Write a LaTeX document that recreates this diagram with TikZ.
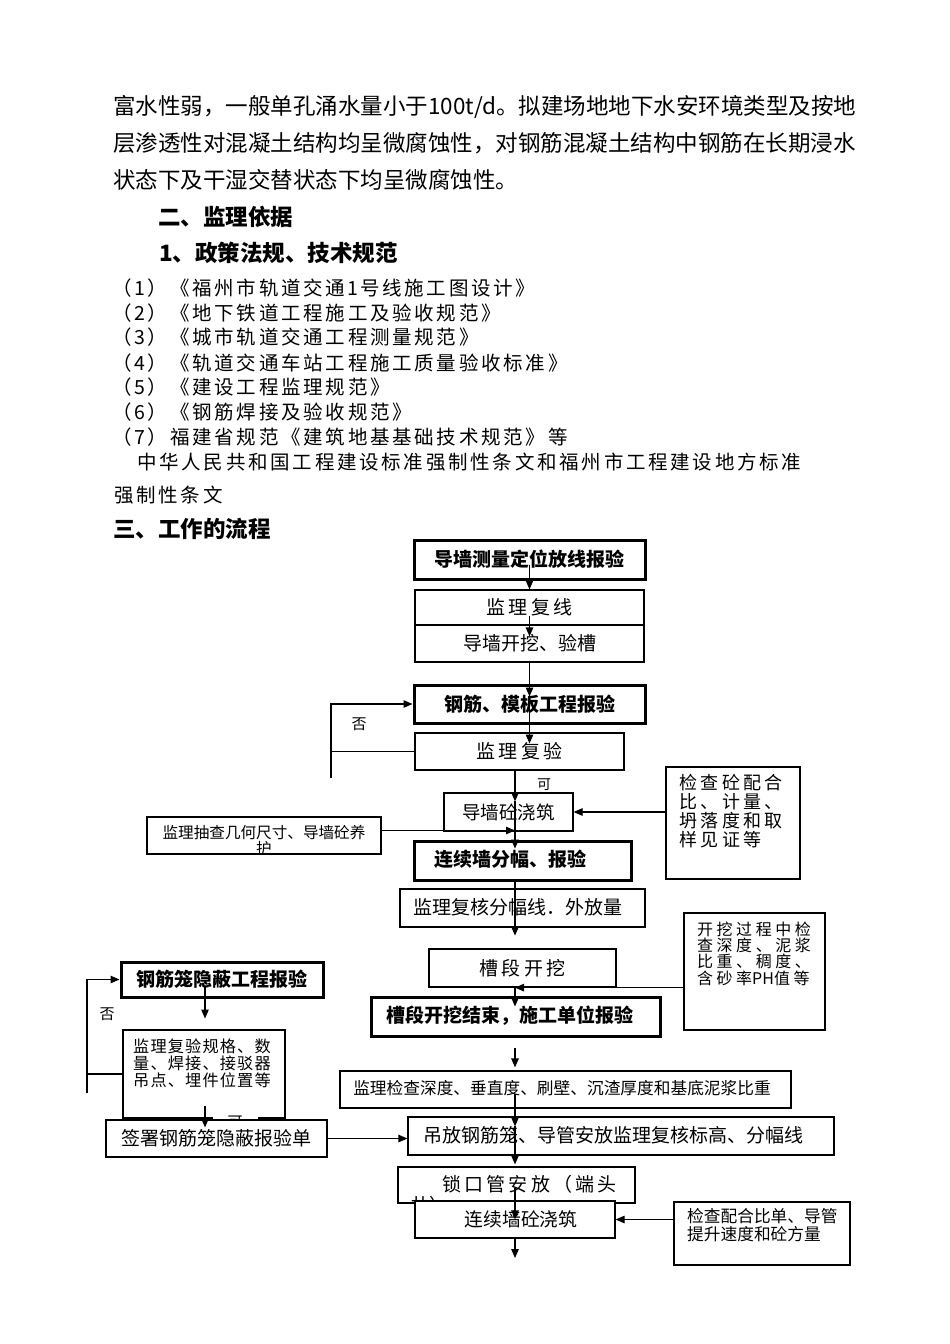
\documentclass[tikz,border=0pt]{standalone}
\usepackage{fontspec}
\setmainfont{Noto Sans CJK SC}
\usetikzlibrary{arrows.meta,calc}
\newcommand\fs[1]{\fontsize{#1}{#1}\selectfont}
\newcommand\fsl[2]{\fontsize{#1}{#2}\selectfont}
\newcommand\spc[1]{\addfontfeature{LetterSpace=#1}}
\newcommand\mkbox[7]{\node[#1,minimum width={#5-#3},minimum height={#6-#4}] (#2) at ({(#3+#5)/2},{(#4+#6)/2}) {#7};}
\begin{document}
\begin{tikzpicture}[x=1pt,y=-1pt,
  tbox/.style={draw=black,line width=1.2pt,fill=white,inner sep=0pt},
  kbox/.style={draw=black,line width=3pt,fill=white,inner sep=0pt,font=\bfseries\fs{19}},
  arr/.style={line width=1.2pt,-{Triangle[length=9pt,width=7.5pt]}},
  ln/.style={line width=1.2pt},
  para/.style={anchor=west,inner sep=0pt,font=\fs{22.5}},
  head/.style={anchor=west,inner sep=0pt,font=\bfseries\fs{22.5}},
  item/.style={anchor=west,inner sep=0pt,font=\fs{19.5}\spc{14}},
  txt/.style={inner sep=0pt},
  lbl/.style={inner sep=0pt,font=\fs{15}}]
\fill[white] (0,0) rectangle (950,1344);
\useasboundingbox (0,0) rectangle (950,1344);

% ---------- text above the chart ----------
\node[para] (p1) at (113,107) {富水性弱，一般单孔涌水量小于100t/d。拟建场地地下水安环境类型及按地};
\node[para] (p2) at (113,143) {层渗透性对混凝土结构均呈微腐蚀性，对钢筋混凝土结构中钢筋在长期浸水};
\node[para] (p3) at (113,180) {状态下及干湿交替状态下均呈微腐蚀性。};
\node[head] (h2) at (158,217) {二、监理依据};
\node[head] (h3) at (159,253) {1、政策法规、技术规范};
\node[item] (i1) at (112,288) {（1）《福州市轨道交通\hspace{2pt}1\hspace{2pt}号线施工图设计》};
\node[item] (i2) at (112,313) {（2）《地下铁道工程施工及验收规范》};
\node[item] (i3) at (112,337) {（3）《城市轨道交通工程测量规范》};
\node[item] (i4) at (112,363) {（4）《轨道交通车站工程施工质量验收标准》};
\node[item] (i5) at (112,387) {（5）《建设工程监理规范》};
\node[item] (i6) at (112,412) {（6）《钢筋焊接及验收规范》};
\node[item] (i7) at (112,437) {（7）福建省规范《建筑地基基础技术规范》等};
\node[item] (i8) at (137,462) {中华人民共和国工程建设标准强制性条文和福州市工程建设地方标准};
\node[item] (i9) at (114,495) {强制性条文};
\node[head] (h4) at (113,529) {三、工作的流程};

% ---------- main column ----------
\mkbox{kbox}{b1}{414}{540}{645}{579}{导墙测量定位放线报验}
\mkbox{tbox,font=\fs{19}\spc{16}}{b2}{415}{590}{644}{625}{监理复线}
\mkbox{tbox,font=\fs{19}}{b3}{415}{625}{644}{662}{导墙开挖、验槽}
\mkbox{kbox}{b4}{414}{685}{645}{723}{钢筋、模板工程报验}
\mkbox{tbox,font=\fs{19}\spc{17}}{b5}{415}{733}{624}{770}{监理复验}
\mkbox{tbox,font=\fs{18.5}}{b6}{444}{793}{573}{831}{导墙砼浇筑}
\mkbox{tbox}{r1}{666}{767}{800}{879}{}
\node[txt,anchor=west,align=left,font=\fsl{18}{19}\spc{19}] (tr1) at (679,811.5) {检查砼配合\\比、计量、\\坍落度和取\\样见证等};
\mkbox{tbox}{l1}{147}{817}{381}{854}{}
\begin{scope}
\clip (l1.south west) rectangle (l1.north east);
\node[txt,align=center,font=\fsl{15.6}{16}] (tl1) at (264,841) {监理抽查几何尺寸、导墙砼养\\护};
\end{scope}
\mkbox{kbox}{b7}{414}{841}{631}{880}{}
\node[txt,font=\bfseries\fs{19}] (t7) at (510,859) {连续墙分幅、报验};
\mkbox{tbox}{b8}{400}{889}{645}{927}{}
\node[txt,font=\fs{19}] (t8) at (518,907) {监理复核分幅线．外放量};
\mkbox{tbox,font=\fs{19}\spc{18}}{b9}{429}{949}{616}{987}{槽段开挖}
\mkbox{tbox}{r2}{684}{913}{825}{1030}{}
\node[txt,anchor=west,align=left,font=\fsl{16}{16.4}\spc{22}] (tr2) at (697,953.5) {开挖过程中检\\查深度、泥浆\\比重、稠度、\\含砂率{\spc{0}PH}值等};
\mkbox{kbox}{b10}{371}{997}{660}{1036}{}
\node[txt,font=\bfseries\fs{19}] (t10) at (510,1016) {槽段开挖结束，施工单位报验};
\mkbox{tbox,font=\fs{16.7}}{b11}{340}{1071}{791}{1108}{}
\node[txt,font=\fs{16.7}] (t11) at (562,1088) {监理检查深度、垂直度、刷壁、沉渣厚度和基底泥浆比重};
\mkbox{tbox}{b12}{408}{1117}{834}{1155}{}
\node[txt,anchor=west,font=\fs{19}] (t12) at (423,1135) {吊放钢筋笼、导管安放监理复核标高、分幅线};
\mkbox{tbox}{b13}{398}{1167}{635}{1203}{}
\begin{scope}
\clip (b13.south west) rectangle (b13.north east);
\node[txt,anchor=west,font=\fs{19}\spc{17}] (t13a) at (442,1184) {锁口管安放（端头};
\node[txt,anchor=west,font=\fs{19}] (t13b) at (410,1205) {井）};
\end{scope}
\mkbox{tbox}{b14}{415}{1201}{615}{1238}{}
\node[txt,font=\fs{18.8}] (t14) at (521,1219) {连续墙砼浇筑};
\mkbox{tbox}{r3}{674}{1202}{850}{1265}{}
\node[txt,anchor=west,align=left,font=\fsl{16.7}{18}] (tr3) at (687,1225) {检查配合比单、导管\\提升速度和砼方量};

% ---------- left column ----------
\mkbox{kbox}{L1}{121}{962}{323}{997}{钢筋笼隐蔽工程报验}
\mkbox{tbox}{L2}{123}{1030}{285}{1118}{}
\node[txt,anchor=west,align=left,font=\fsl{16.2}{16.8}\spc{7}] (tL2) at (133,1063.5) {监理复验规格、数\\量、焊接、接驳器\\吊点、埋件位置等};
\node[lbl,fill=white,minimum width=45,minimum height=16] (ok2) at (235,1122) {可};
\mkbox{tbox,font=\fs{19}}{L3}{106}{1120}{327}{1157}{签署钢筋笼隐蔽报验单}

% ---------- labels ----------
\node[lbl] (no1) at (359,724) {否};
\node[lbl,font=\fs{14}] (ok1) at (544,785) {可};
\node[lbl] (no2) at (107,1014) {否};

% ---------- connectors ----------
\coordinate (sB) at (515,0);
\coordinate (sL) at (205,0);
\coordinate (n1) at (331,778);
\coordinate (n2) at (87,1093);
\coordinate (e1) at (515,1258);

\draw[arr] ($(b1.south)+(0,-16)$) -- (b2.north);
\draw[arr] ($(b2.south)+(0,-10)$) -- ($(b3.north)+(0,12)$);
\draw[arr] (b3.south) -- ($(b4.north)+(0,13)$);
\draw[arr] ($(b4.north)+(0,13)$) -- ($(b4.south)+(0,19)$);
\draw[ln] (b5.west) -- (b5.west -| n1);
\draw[arr] (n1) -- (n1 |- b4.west) -- (b4.west);
\draw[arr] (b5.south -| sB) -- ($(b6.north -| sB)+(0,9)$);
\draw[arr] ($(b6.north -| sB)+(0,9)$) -- ($(b7.north -| sB)+(0,9)$);
\draw[arr] (b6.east -| r1.west) -- (b6.east);
\draw[arr] ($(l1.east)+(0,-5)$) -- ($(l1.east -| sB)+(0,-5)$);
\draw[arr] (b7.south -| sB) -- ($(b8.south -| sB)+(0,8)$);
\draw[arr] (r2.west |- b9.south) -- (b9.south -| sB);
\draw[arr] (b9.south -| sB) -- ($(b10.north -| sB)+(0,11)$);
\draw[arr] ($(b10.south -| sB)+(0,10)$) -- ($(b11.north -| sB)+(0,-3)$);
\draw[arr] ($(b11.center -| sB)+(0,4)$) -- ($(b12.north -| sB)+(0,10)$);
\draw[arr] ($(b12.north -| sB)+(0,10)$) -- ($(b13.north -| sB)+(0,-2)$);
\draw[arr] ($(b13.north -| sB)+(0,22)$) -- ($(b14.north -| sB)+(0,19)$);
\draw[arr] (b14.east -| r3.west) -- (b14.east);
\draw[arr] (b14.south -| sB) -- (e1);
\draw[arr] ($(L1.south -| sL)+(0,-12)$) -- ($(L1.south -| sL)+(0,20)$);
\draw[arr] (n2) -- (n2 |- L1.west) -- (L1.west);
\draw[ln] (L2.west) -- (L2.west -| n2);
\draw[arr] ($(L3.north -| sL)+(0,-13)$) -- ($(L3.north -| sL)+(0,8)$);
\draw[arr] (L3.east) -- (L3.east -| b12.west);
\end{tikzpicture}
\end{document}
